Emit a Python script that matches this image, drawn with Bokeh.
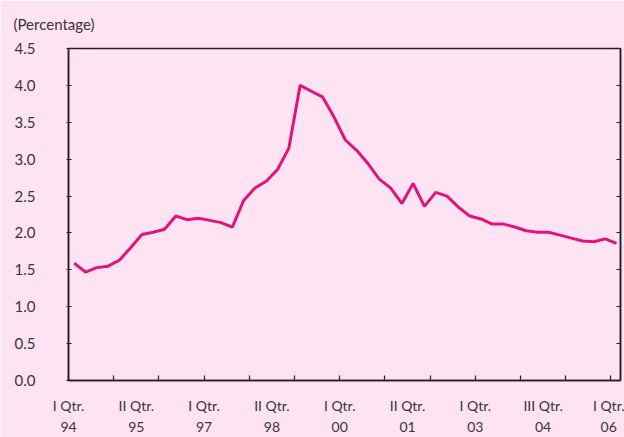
from bokeh.plotting import figure
from bokeh.models import FixedTicker, LinearAxis, NumeralTickFormatter
from bokeh.embed import file_html
from bokeh.resources import INLINE

# ---- data ----
values = [1.59, 1.47, 1.53, 1.55, 1.63, 1.80, 1.98, 2.01, 2.05, 2.23,
          2.18, 2.20, 2.17, 2.14, 2.08, 2.44, 2.61, 2.70, 2.86, 3.15,
          4.00, 3.92, 3.84, 3.57, 3.26, 3.12, 2.94, 2.73, 2.61, 2.40,
          2.67, 2.36, 2.55, 2.50, 2.35, 2.23, 2.19, 2.12, 2.12, 2.08,
          2.03, 2.01, 2.01, 1.97, 1.93, 1.89, 1.88, 1.92, 1.86]
quarters = list(range(len(values)))
tick_quarters = [-0.5 + 4 * k for k in range(13)]
label_quarters = [-0.5 + 6 * k for k in range(9)]
label_texts = ["I Qtr.\n94", "II Qtr.\n95", "I Qtr.\n97", "II Qtr.\n98",
               "I Qtr.\n00", "II Qtr.\n01", "I Qtr.\n03", "III Qtr.\n04",
               "I Qtr.\n06"]
y_ticks = [0.0, 0.5, 1.0, 1.5, 2.0, 2.5, 3.0, 3.5, 4.0, 4.5]
unit_text = "(Percentage)"

BG = "#FEE4F3"
LINE = "#E0147B"
AX = "#231F20"
TXT = "#3A3536"
FONT = "Lato"

p = figure(width=624, height=437, x_range=(-0.5, 48.35), y_range=(0, 4.5),
           output_backend="svg", toolbar_location=None,
           x_axis_location=None, y_axis_location=None,
           min_border_left=68, min_border_right=4, min_border_top=47,
           min_border_bottom=56,
           background_fill_color=BG, border_fill_color=BG,
           outline_line_color=AX, outline_line_width=1.5)
p.grid.grid_line_color = None

p.title.text = unit_text
p.title.align = "left"
p.title.vertical_align = "top"
p.title.offset = -55
p.title.standoff = 28
p.title.text_font = FONT
p.title.text_font_size = "15px"
p.title.text_font_style = "normal"
p.title.text_color = TXT

yaxis = LinearAxis(ticker=FixedTicker(ticks=y_ticks, minor_ticks=[]),
                   formatter=NumeralTickFormatter(format="0.0"),
                   axis_line_color=AX, axis_line_width=1.5,
                   major_tick_line_color=AX, major_tick_line_width=1.2,
                   major_tick_in=3, major_tick_out=2,
                   major_label_standoff=31,
                   major_label_text_font=FONT, major_label_text_font_size="15px",
                   major_label_text_color=TXT)
p.add_layout(yaxis, "left")

# right frame edge: tick marks only (drawn as minor ticks, no labels)
raxis = LinearAxis(ticker=FixedTicker(ticks=[], minor_ticks=y_ticks),
                   axis_line_color=AX, axis_line_width=1.5,
                   minor_tick_line_color=AX, minor_tick_line_width=1.2,
                   minor_tick_in=4, minor_tick_out=0,
                   major_tick_line_color=None, major_label_standoff=0)
p.add_layout(raxis, "right")

# bottom axis: tick marks every 4 quarters (minor), labels every 6 quarters (major)
xaxis = LinearAxis(ticker=FixedTicker(ticks=label_quarters, minor_ticks=tick_quarters),
                   major_label_overrides=dict(zip(label_quarters, label_texts)),
                   axis_line_color=AX, axis_line_width=1.5,
                   major_tick_line_color=None,
                   minor_tick_line_color=AX, minor_tick_line_width=1.2,
                   minor_tick_in=5, minor_tick_out=0,
                   major_tick_in=0, major_tick_out=0,
                   major_label_standoff=16,
                   major_label_text_line_height=1.25,
                   major_label_text_font=FONT, major_label_text_font_size="14px",
                   major_label_text_color=TXT)
p.add_layout(xaxis, "below")

p.line(x=quarters, y=values, line_color=LINE, line_width=3)

open("out.html", "w").write(file_html(p, INLINE))
